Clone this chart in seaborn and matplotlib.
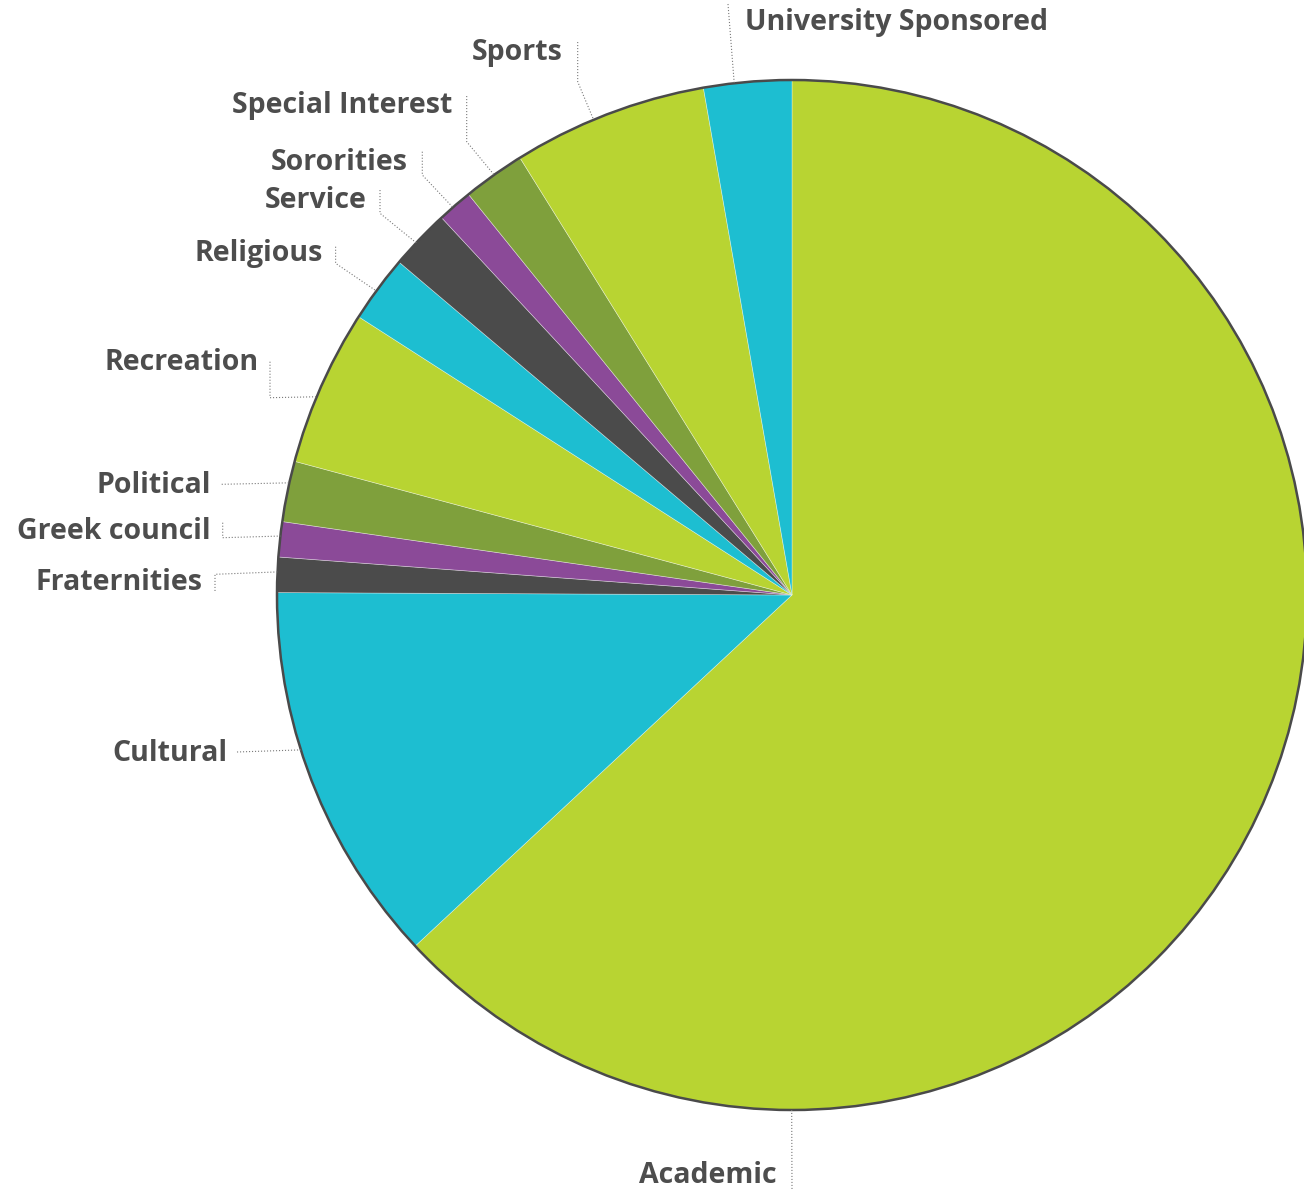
import matplotlib.pyplot as plt
import seaborn as sns
import numpy as np

# canvas size in pixels (figure is drawn 1:1 in pixel units)
W, H = 1304, 1189

categories = ["Academic", "Cultural", "Fraternities", "Greek council", "Political",
              "Recreation", "Religious", "Service", "Sororities", "Special Interest",
              "Sports", "University Sponsored"]
shares = [63.0, 12.0, 1.1, 1.1, 1.9, 4.9, 2.1, 1.9, 1.1, 1.95, 6.1, 2.75]

LIME, CYAN, DARK, PURPLE, OLIVE = "#B8D432", "#1DBED1", "#4B4B4B", "#8B4A98", "#7FA03C"
palette = sns.color_palette([LIME, CYAN, DARK, PURPLE, OLIVE,
                             LIME, CYAN, DARK, PURPLE, OLIVE, LIME, CYAN])

# label layout (pixel coords, y down): text pos, alignment, leader points, anchor fraction in wedge
label_layout = {
    "Academic": ((777, 1173), "right", [(792, 1189)], 0.793),
    "Cultural": ((227, 751), "right", [(237, 752)], 0.589),
    "Fraternities": ((203, 580), "right", [(215, 591), (215, 574.3)], 0.58),
    "Greek council": ((211, 529), "right", [(222.7, 522.7), (222.7, 537.7)], 0.59),
    "Political": ((211, 483.5), "right", [(221.7, 484.3)], 0.64),
    "Recreation": ((258.5, 360.5), "right", [(270, 361.7), (270, 397.7)], 0.43),
    "Religious": ((323, 251.5), "right", [(335.6, 246.7), (335.6, 263.3)], 0.46),
    "Service": ((367, 198.5), "right", [(380, 190), (380, 213.3)], 0.42),
    "Sororities": ((407.5, 160.5), "right", [(422.3, 151.7), (422.3, 175)], 0.43),
    "Special Interest": ((452, 103.5), "right", [(466.7, 96), (466.7, 141.7)], 0.51),
    "Sports": ((562.5, 50.5), "right", [(577.7, 42), (577.7, 81.7)], 0.42),
    "University Sponsored": ((745, 20.5), "left", [(728, 4)], 0.35),
}

CENTER_PX = (792, 595)
RADIUS = 515
TEXT_COLOR = "#4D4D4D"


def px(x, y):
    return x, H - y


sns.set_theme(style="white")
plt.rcParams["font.family"] = ["Open Sans", "DejaVu Sans"]

fig = plt.figure(figsize=(W / 100, H / 100), dpi=100)
ax = fig.add_axes([0, 0, 1, 1])

center = px(*CENTER_PX)
wedges, _ = ax.pie(shares, colors=palette, startangle=90, counterclock=False,
                   radius=RADIUS, center=center, frame=True,
                   wedgeprops=dict(edgecolor=(1, 1, 1, 0.45), linewidth=0.5))
ax.set_xlim(0, W)
ax.set_ylim(0, H)
ax.set_aspect("equal")
ax.axis("off")

# outer rim
ax.add_patch(plt.Circle(center, RADIUS, fill=False, edgecolor="#4A4A4A",
                        linewidth=1.8, zorder=5))

for wedge, name in zip(wedges, categories):
    (tx, ty), ha, pts, frac = label_layout[name]
    # wedge runs clockwise from theta2 to theta1
    ang = np.deg2rad(wedge.theta2 - frac * (wedge.theta2 - wedge.theta1))
    anchor = (center[0] + RADIUS * np.cos(ang), center[1] + RADIUS * np.sin(ang))
    path = [px(x, y) for x, y in pts] + [anchor]
    xs, ys = zip(*path)
    ax.plot(xs, ys, color="#7A7A7A", linewidth=0.8, linestyle=(0, (1, 1.7)),
            zorder=6, clip_on=False)
    x, y = px(tx, ty + 9.9)
    ax.text(x, y, name, ha=ha, va="baseline", fontsize=20.5, fontweight="bold",
            color=TEXT_COLOR)

fig.savefig("out.png", dpi=100)
plt.close(fig)
